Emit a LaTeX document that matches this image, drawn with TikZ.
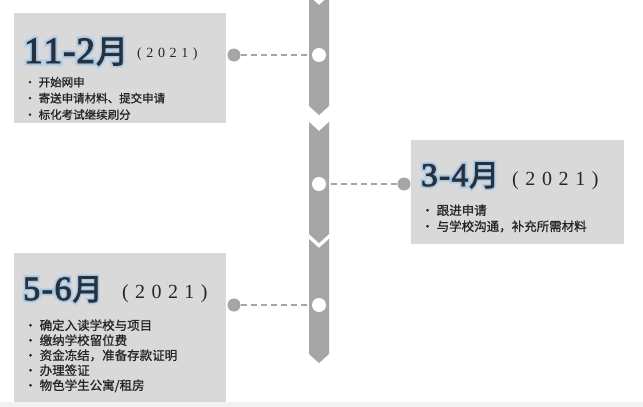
\documentclass[tikz,border=0pt]{standalone}
\usepackage{fontspec}
\setmainfont{Liberation Serif}
\newfontfamily\cjk{Noto Sans CJK SC}
\definecolor{boxgray}{HTML}{D9D9D9}
\definecolor{chev}{HTML}{A6A6A6}
\definecolor{strip}{HTML}{F2F2F2}
\definecolor{glow}{HTML}{94BFE6}
\definecolor{ink}{HTML}{27313D}
\definecolor{txt}{HTML}{262626}
\newcommand\yr[1]{(\kern#1 2\kern#1 0\kern#1 2\kern#1 1\kern#1 )}
% #1 FakeBold amount, #2 digit size, #3 digits, #4 cjk size
\newcommand\ttl[4]{{\fontsize{#2}{#2}\selectfont\addfontfeature{FakeBold=#1}#3}{\cjk\fontsize{#4}{#4}\selectfont\addfontfeature{FakeBold=#1}月}}
\newcommand\glowtitle[5]{% name, position, digit size, digits, cjk size
  \node[anchor=base west, inner sep=0, text=glow, opacity=0.25] at (#2) {\ttl{17}{#3}{#4}{#5}};
  \node[anchor=base west, inner sep=0, text=glow, opacity=0.5] at (#2) {\ttl{11}{#3}{#4}{#5}};
  \node[anchor=base west, inner sep=0, text=glow, opacity=0.8] at (#2) {\ttl{6}{#3}{#4}{#5}};
  \node[anchor=base west, inner sep=0, text=ink] (#1) at (#2) {\ttl{2.5}{#3}{#4}{#5}};
}
\begin{document}
\begin{tikzpicture}[x=1pt,y=-1pt,
  box/.style={fill=boxgray, draw=none, anchor=north west, inner sep=0},
  ring/.style={circle, fill=white, draw=none, minimum size=14pt, inner sep=0},
  dot/.style={circle, fill=chev, draw=none, minimum size=13pt, inner sep=0},
  link/.style={draw=chev, line width=1.5pt, dash pattern=on 6pt off 4pt},
  item/.style={anchor=base west, inner sep=0, text=txt},
  year/.style={anchor=base west, inner sep=0, text=txt}]
\useasboundingbox (0,0) rectangle (643,407);
\fill[white] (0,0) rectangle (643,407);
\fill[strip] (0,402) rectangle (643,407);
% chevrons
\fill[chev] (309,-4) -- (319,5) -- (329,-4) -- (329,106) -- (319,115) -- (309,106) -- cycle;
\fill[chev] (309,122) -- (319,131) -- (329,122) -- (329,234) -- (319,243) -- (309,234) -- cycle;
\fill[chev] (309,239) -- (319,248) -- (329,239) -- (329,354) -- (319,363) -- (309,354) -- cycle;
% boxes
\node[box, minimum width=212pt, minimum height=110pt] (box1) at (14,13) {};
\node[box, minimum width=213pt, minimum height=104pt] (box2) at (411,140) {};
\node[box, minimum width=212pt, minimum height=149pt] (box3) at (14,253) {};
% circles and dots
\node[ring] (w1) at (319,55) {};
\node[ring] (w2) at (319,184) {};
\node[ring] (w3) at (319,305) {};
\node[dot] (d1) at (234,55) {};
\node[dot] (d2) at (404,184) {};
\node[dot] (d3) at (234,305) {};
\draw[link] (d1) -- (w1);
\draw[link] (d2) -- (w2);
\draw[link] (d3) -- (w3);
% titles
\coordinate (p1) at (24,63);
\coordinate (p2) at (421,186);
\coordinate (p3) at (23,300);
\glowtitle{t1}{p1}{37}{1\kern1pt 1\kern1pt -\kern1pt 2\kern1pt }{32}
\glowtitle{t2}{p2}{33}{3\kern1.5pt -\kern1.5pt 4\kern1pt }{30}
\glowtitle{t3}{p3}{34}{5\kern1.5pt -\kern1.5pt 6\kern1pt }{30}
\node[year] (y1) at (137,57) {\fontsize{14}{14}\selectfont\yr{4.6pt}};
\node[year] (y2) at (512,185) {\fontsize{20}{20}\selectfont\yr{6.6pt}};
\node[year] (y3) at (122,298) {\fontsize{20}{20}\selectfont\yr{6.4pt}};
% items
\begin{scope}[every node/.append style={font=\cjk\fontsize{11.5}{11.5}\selectfont\addfontfeature{FakeBold=1}}]
\node[item] (a1) at (24,86.5) {·\kern3pt 开始网申};
\node[item] (a2) at (24,102.5) {·\kern3pt 寄送申请材料、提交申请};
\node[item] (a3) at (24,119) {·\kern3pt 标化考试继续刷分};
\end{scope}
\begin{scope}[every node/.append style={font=\cjk\fontsize{12.5}{12.5}\selectfont\addfontfeature{FakeBold=1}}]
\node[item] (b1) at (421,215) {·\kern3pt 跟进申请};
\node[item] (b2) at (421,231) {·\kern3pt 与学校沟通，补充所需材料};
\node[item] (c1) at (24,330) {·\kern3pt 确定入读学校与项目};
\node[item] (c2) at (24,345) {·\kern3pt 缴纳学校留位费};
\node[item] (c3) at (24,360) {·\kern3pt 资金冻结，准备存款证明};
\node[item] (c4) at (24,375) {·\kern3pt 办理签证};
\node[item] (c5) at (24,390) {·\kern3pt 物色学生公寓/租房};
\end{scope}
\end{tikzpicture}
\end{document}
